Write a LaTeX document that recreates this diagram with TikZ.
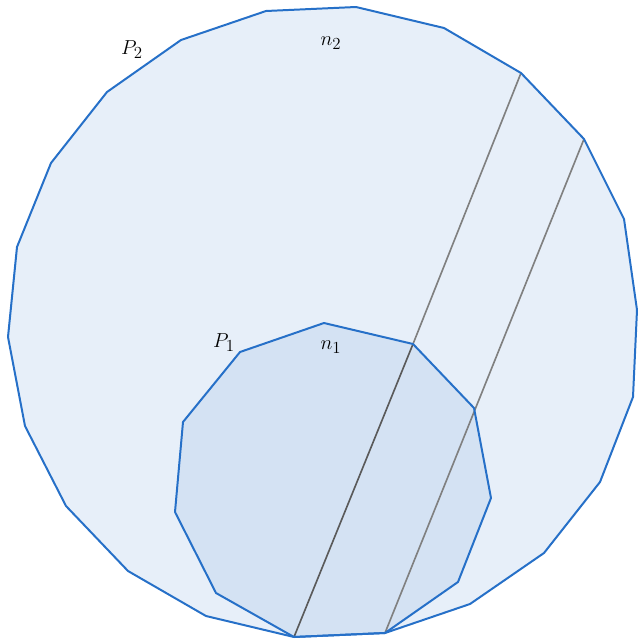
\documentclass[tikz,border=0pt]{standalone}
\begin{document}
\begin{tikzpicture}[x=0.03cm,y=-0.03cm,
  poly/.style={draw=polyblue,line width=1.7pt,line join=round},
  chord/.style={draw=chordgray,line width=1.4pt},
  chorddark/.style={draw=chorddark,line width=1.4pt},
  lbl/.style={font=\fontsize{19}{22}\selectfont,inner sep=0pt}]
\definecolor{polyblue}{RGB}{38,112,200}
\definecolor{outerfill}{RGB}{231,239,249}
\definecolor{innerfill}{RGB}{212,226,243}
\definecolor{chordgray}{RGB}{128,128,128}
\definecolor{chorddark}{RGB}{90,90,90}
\useasboundingbox (0,0) rectangle (637,640);
% outer polygon P2
\coordinate (o1) at (266,11);
\coordinate (o2) at (356,7);
\coordinate (o3) at (444,28);
\coordinate (o4) at (521,73);
\coordinate (o5) at (584,139);
\coordinate (o6) at (624,219);
\coordinate (o7) at (637,310);
\coordinate (o8) at (633,397);
\coordinate (o9) at (600,482);
\coordinate (o10) at (544,553);
\coordinate (o11) at (470,604);
\coordinate (o12) at (385,633);
\coordinate (o13) at (294,637);
\coordinate (o14) at (206,616);
\coordinate (o15) at (128,571);
\coordinate (o16) at (66,506);
\coordinate (o17) at (25,426);
\coordinate (o18) at (8,337);
\coordinate (o19) at (17,247);
\coordinate (o20) at (51,163);
\coordinate (o21) at (107,92);
\coordinate (o22) at (181,40);
% inner polygon P1
\coordinate (i1) at (324,323);
\coordinate (i2) at (413,344);
\coordinate (i3) at (474,408);
\coordinate (i4) at (491,498);
\coordinate (i5) at (458,582);
\coordinate (i8) at (216,593);
\coordinate (i9) at (175,512);
\coordinate (i10) at (183,422);
\coordinate (i11) at (240,352);
\fill[outerfill] (o1)--(o2)--(o3)--(o4)--(o5)--(o6)--(o7)--(o8)--(o9)--(o10)--(o11)--(o12)--(o13)--(o14)--(o15)--(o16)--(o17)--(o18)--(o19)--(o20)--(o21)--(o22)--cycle;
\fill[innerfill] (i1)--(i2)--(i3)--(i4)--(i5)--(o12)--(o13)--(i8)--(i9)--(i10)--(i11)--cycle;
% chords
\draw[chord] (i2)--(o4);
\draw[chorddark] (o13)--(i2);
\draw[chord] (o12)--(o5);
% polygon outlines
\draw[poly] (o1)--(o2)--(o3)--(o4)--(o5)--(o6)--(o7)--(o8)--(o9)--(o10)--(o11)--(o12)--(o13)--(o14)--(o15)--(o16)--(o17)--(o18)--(o19)--(o20)--(o21)--(o22)--cycle;
\draw[poly] (i1)--(i2)--(i3)--(i4)--(i5)--(o12)--(o13)--(i8)--(i9)--(i10)--(i11)--cycle;
% labels
\node[lbl] (p2) at (132,50) {$P_2$};
\node[lbl] (n2) at (331,43) {$n_2$};
\node[lbl] (p1) at (224,343) {$P_1$};
\node[lbl] (n1) at (331,347) {$n_1$};
\end{tikzpicture}
\end{document}
